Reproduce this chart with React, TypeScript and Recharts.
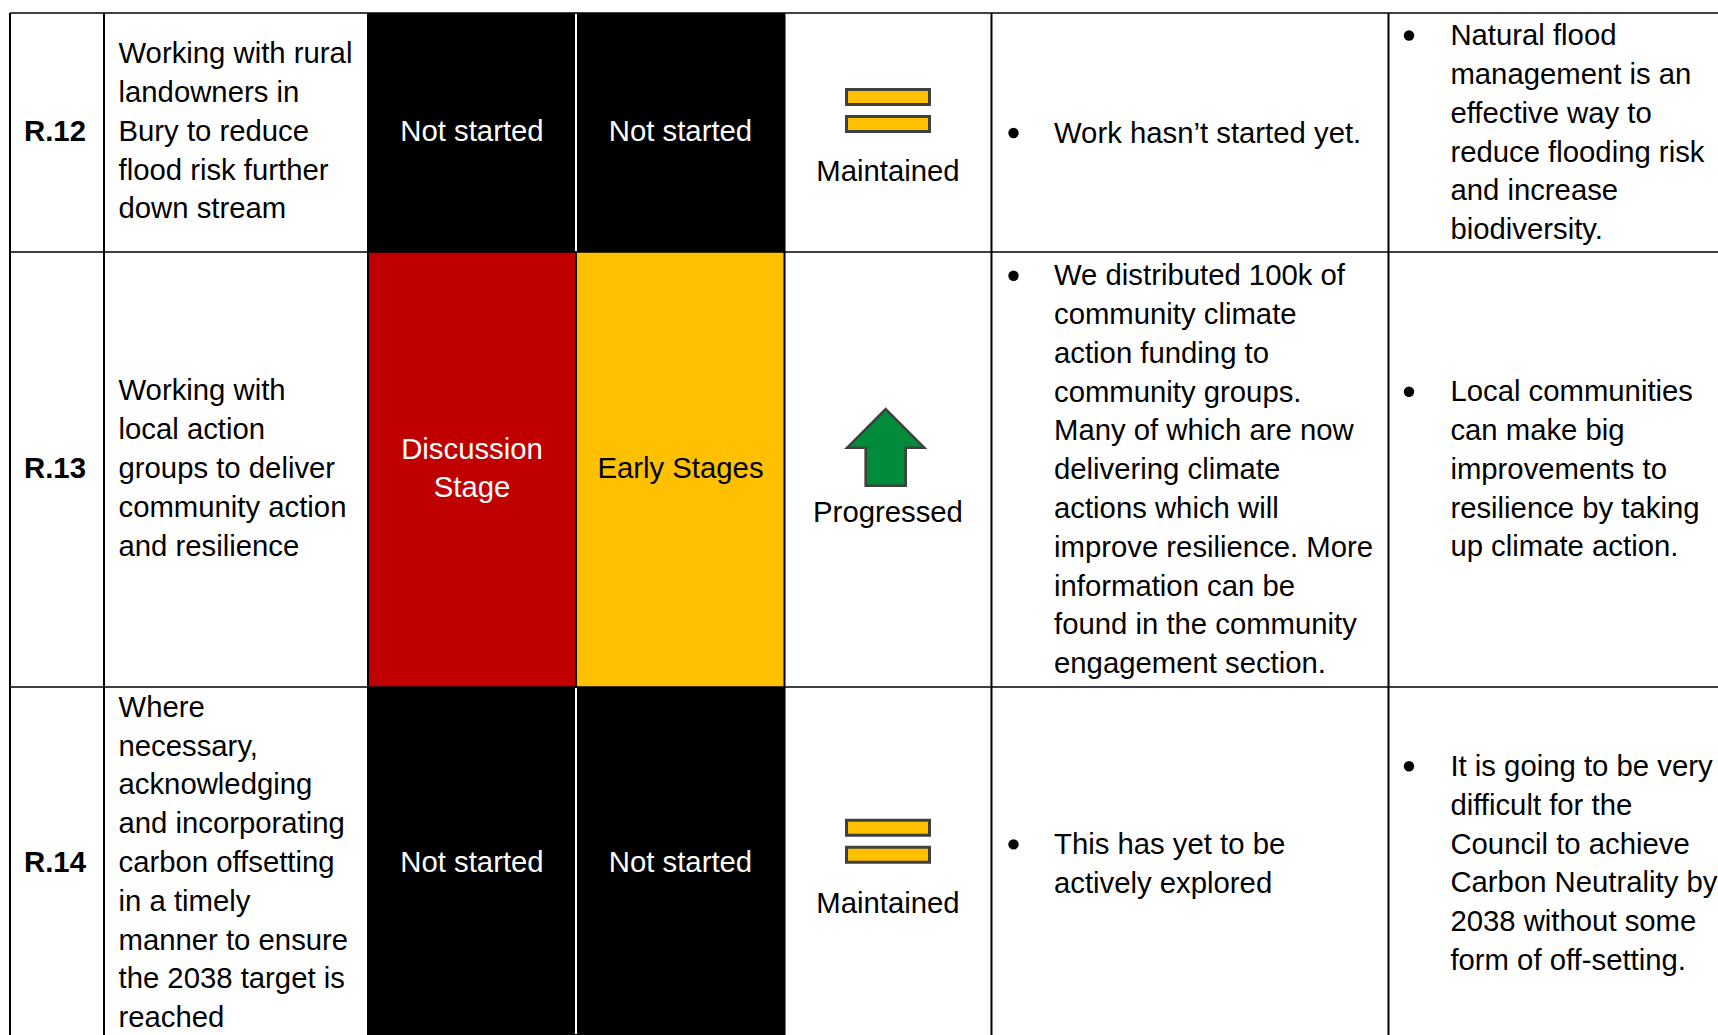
import { ReferenceArea, ReferenceLine, Scatter, ScatterChart, XAxis, YAxis } from "recharts";

const WIDTH = 1718;
const HEIGHT = 1035;
const FONT = "'Liberation Sans', Arial, sans-serif";
const FONT_SIZE = 29.3;
const LINE_HEIGHT = 38.8;

const RED = "#C00000";
const AMBER = "#FFC000";
const GREEN = "#038B3C";
const ICON_STROKE = "#404040";

// table text, one entry per row
const rowIds = ["R.12", "R.13", "R.14"];
const actions = [
  ["Working with rural", "landowners in", "Bury to reduce", "flood risk further", "down stream"],
  ["Working with", "local action", "groups to deliver", "community action", "and resilience"],
  ["Where", "necessary,", "acknowledging", "and incorporating", "carbon offsetting", "in a timely", "manner to ensure", "the 2038 target is", "reached"],
];
const startStatus = [["Not started"], ["Discussion", "Stage"], ["Not started"]];
const currentStatus = [["Not started"], ["Early Stages"], ["Not started"]];
const statusKinds = ["none", "red", "none"];
const currentKinds = ["none", "amber", "none"];
const trends = ["Maintained", "Progressed", "Maintained"];
const updates = [
  ["Work hasn’t started yet."],
  ["We distributed 100k of", "community climate", "action funding to", "community groups.", "Many of which are now", "delivering climate", "actions which will", "improve resilience. More", "information can be", "found in the community", "engagement section."],
  ["This has yet to be", "actively explored"],
];
const lessons = [
  ["Natural flood", "management is an", "effective way to", "reduce flooding risk", "and increase", "biodiversity."],
  ["Local communities", "can make big", "improvements to", "resilience by taking", "up climate action."],
  ["It is going to be very", "difficult for the", "Council to achieve", "Carbon Neutrality by", "2038 without some", "form of off-setting."],
];

// grid layout in reference pixels
const colEdges = [10, 104, 368, 576, 784.5, 991.5, 1388.5];
const rowEdges = [13, 252, 687, HEIGHT];
const rowCentres = [131, 467.8, 861.8];
const actionNudge = [-0.5, 0, 0];
const updateNudge = [1.5, 1.2, 1.4];
const lessonNudge = [0.9, 0.8, 1];
const trendNudge = [39.5, 44, 41];

const kindFill: Record<string, string> = { none: "#000000", red: RED, amber: AMBER };
const kindText: Record<string, string> = { none: "#ffffff", red: "#ffffff", amber: "#000000" };

type TextRow = { x: number; y: number; text: string; anchor: string; bold?: boolean; fill?: string };

function block(lines: string[], x: number, centre: number, anchor: string, fill = "#000000", bold = false): TextRow[] {
  return lines.map((text, i) => ({
    x,
    y: centre + (i - (lines.length - 1) / 2) * LINE_HEIGHT,
    text,
    anchor,
    fill,
    bold,
  }));
}

const textRows: TextRow[] = rowCentres.flatMap((c, r) => [
  ...block([rowIds[r]], 55, c, "middle", "#000000", true),
  ...block(actions[r], 118.5, c + actionNudge[r], "start"),
  ...block(startStatus[r], 472, c, "middle", kindText[statusKinds[r]]),
  ...block(currentStatus[r], 680.5, c, "middle", kindText[currentKinds[r]]),
  ...block([trends[r]], 888, c + trendNudge[r], "middle"),
  ...block(updates[r], 1054, c + updateNudge[r], "start"),
  ...block(lessons[r], 1450.4, c + lessonNudge[r], "start"),
]);

const bullets = rowCentres.flatMap((c, r) => [
  { x: 1013.5, y: c + 2 - ((updates[r].length - 1) / 2) * LINE_HEIGHT },
  { x: 1409, y: c + 1.5 - ((lessons[r].length - 1) / 2) * LINE_HEIGHT },
]);

const arrows = [{ x: 885.7, y: 447.7 }];

const equalIcons = rowCentres.filter((_, r) => trends[r] === "Maintained");

function TextShape(props: any) {
  const { cx, cy, payload } = props;
  return (
    <text
      x={cx}
      y={cy}
      dy="0.35em"
      textAnchor={payload.anchor}
      fill={payload.fill}
      fontFamily={FONT}
      fontSize={FONT_SIZE}
      fontWeight={payload.bold ? 700 : 400}
    >
      {payload.text}
    </text>
  );
}

function BulletShape(props: any) {
  return <circle cx={props.cx} cy={props.cy} r={5.2} fill="#000000" />;
}

function ArrowShape(props: any) {
  const { cx, cy } = props;
  const pts = [
    [0, -38.5],
    [38.5, 0],
    [20, 0],
    [20, 38],
    [-20, 38],
    [-20, 0],
    [-38.5, 0],
  ];
  return (
    <polygon
      points={pts.map(([dx, dy]) => `${cx + dx},${cy + dy}`).join(" ")}
      fill={GREEN}
      stroke={ICON_STROKE}
      strokeWidth={2.6}
      strokeLinejoin="miter"
    />
  );
}

export default function App() {
  return (
    <div style={{ position: "absolute", left: 0, top: 0, width: WIDTH, height: HEIGHT, background: "#ffffff", overflow: "hidden" }}>
      <ScatterChart width={WIDTH} height={HEIGHT} margin={{ top: 0, right: 0, bottom: 0, left: 0 }}>
        <XAxis type="number" dataKey="x" domain={[0, WIDTH]} hide allowDataOverflow />
        <YAxis type="number" dataKey="y" domain={[0, HEIGHT]} reversed hide allowDataOverflow />

        {rowCentres.map((_, r) => (
          <ReferenceArea key={`a${r}`} x1={colEdges[2]} x2={colEdges[3]} y1={rowEdges[r]} y2={rowEdges[r + 1]} fill={kindFill[statusKinds[r]]} fillOpacity={1} stroke="none" />
        ))}
        {rowCentres.map((_, r) => (
          <ReferenceArea key={`b${r}`} x1={colEdges[3]} x2={colEdges[4]} y1={rowEdges[r]} y2={rowEdges[r + 1]} fill={kindFill[currentKinds[r]]} fillOpacity={1} stroke="none" />
        ))}

        {colEdges.map((x) => (
          <ReferenceLine
            key={`v${x}`}
            segment={[
              { x, y: rowEdges[0] },
              { x, y: HEIGHT },
            ]}
            stroke="#000000"
            strokeWidth={2}
          />
        ))}
        {rowEdges.slice(0, 3).map((y) => (
          <ReferenceLine
            key={`h${y}`}
            segment={[
              { x: colEdges[0], y },
              { x: WIDTH, y },
            ]}
            stroke="#000000"
            strokeWidth={1.5}
          />
        ))}
        {/* white rule between the two black status cells */}
        {[0, 2].map((r) => (
          <ReferenceLine
            key={`w${r}`}
            segment={[
              { x: colEdges[3], y: rowEdges[r] + 1 },
              { x: colEdges[3], y: rowEdges[r + 1] - 1 },
            ]}
            stroke="#ffffff"
            strokeWidth={2}
          />
        ))}

        {equalIcons.flatMap((c) =>
          [-34, -7].map((offset) => (
            <ReferenceArea
              key={`eq${c}${offset}`}
              x1={846.5}
              x2={929.5}
              y1={c + offset - 7.5}
              y2={c + offset + 7.5}
              fill={AMBER}
              fillOpacity={1}
              stroke={ICON_STROKE}
              strokeWidth={3}
            />
          )),
        )}

        <Scatter data={arrows} isAnimationActive={false} shape={<ArrowShape />} />
        <Scatter data={bullets} isAnimationActive={false} shape={<BulletShape />} />
        <Scatter data={textRows} isAnimationActive={false} shape={<TextShape />} />
      </ScatterChart>
    </div>
  );
}
